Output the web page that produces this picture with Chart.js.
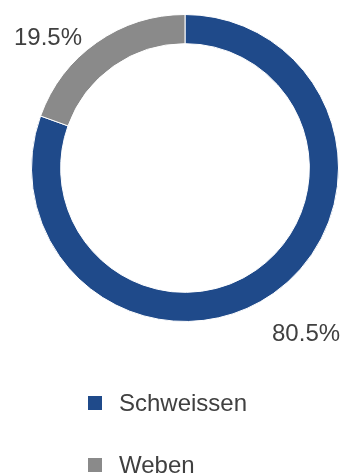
<!DOCTYPE html>
<html>
<head>
<meta charset="utf-8">
<script src="https://cdn.jsdelivr.net/npm/chart.js@4/dist/chart.umd.min.js"></script>
<style>
  html, body { margin: 0; padding: 0; background: #fff; }
  #wrap { position: relative; width: 343px; height: 475px; }
  #legend { position: absolute; left: 88px; top: 390px; font-family: "Liberation Sans", Arial, sans-serif; font-size: 24px; color: #404040; }
  .item { display: flex; align-items: center; height: 26px; margin-bottom: 36px; }
  .box { width: 14px; height: 14px; margin-right: 17px; }
</style>
</head>
<body>
<div id="wrap">
  <canvas id="chart" width="343" height="475"></canvas>
  <div id="legend"></div>
</div>
<script>
const categories = ['Schweissen', 'Weben'];
const shares = [80.5, 19.5];
const colors = ['#1f4a8a', '#8a8a8a'];

// hand placement of the outside labels, relative to the arc's outer edge
const labelNudge = [[-7, 33], [-9, 4]];

const outLabels = {
  id: 'outLabels',
  afterDatasetsDraw(chart) {
    const ctx = chart.ctx;
    const arcs = chart.getDatasetMeta(0).data;
    ctx.save();
    ctx.font = '24px "Liberation Sans", Arial, sans-serif';
    ctx.fillStyle = '#404040';
    ctx.textBaseline = 'middle';
    arcs.forEach((arc, i) => {
      const p = arc.getProps(['x', 'y', 'startAngle', 'endAngle', 'outerRadius'], true);
      const mid = (p.startAngle + p.endAngle) / 2;
      const r = p.outerRadius + 10;
      const x = p.x + Math.cos(mid) * r + labelNudge[i][0];
      const y = p.y + Math.sin(mid) * r + labelNudge[i][1];
      ctx.textAlign = Math.cos(mid) < 0 ? 'right' : 'left';
      ctx.fillText(shares[i].toFixed(1) + '%', x, y);
    });
    ctx.restore();
  }
};

new Chart(document.getElementById('chart'), {
  type: 'doughnut',
  data: {
    labels: categories,
    datasets: [{
      data: shares,
      backgroundColor: colors,
      borderColor: '#ffffff',
      borderWidth: 1
    }]
  },
  options: {
    responsive: false,
    animation: false,
    cutout: '81%',
    layout: { padding: { left: 31, right: 4, top: 14, bottom: 153 } },
    plugins: {
      legend: { display: false },
      tooltip: { enabled: false }
    }
  },
  plugins: [outLabels]
});

const legend = document.getElementById('legend');
categories.forEach((name, i) => {
  const item = document.createElement('div');
  item.className = 'item';
  const box = document.createElement('span');
  box.className = 'box';
  box.style.background = colors[i];
  const txt = document.createElement('span');
  txt.textContent = name;
  item.appendChild(box);
  item.appendChild(txt);
  legend.appendChild(item);
});
</script>
</body>
</html>
